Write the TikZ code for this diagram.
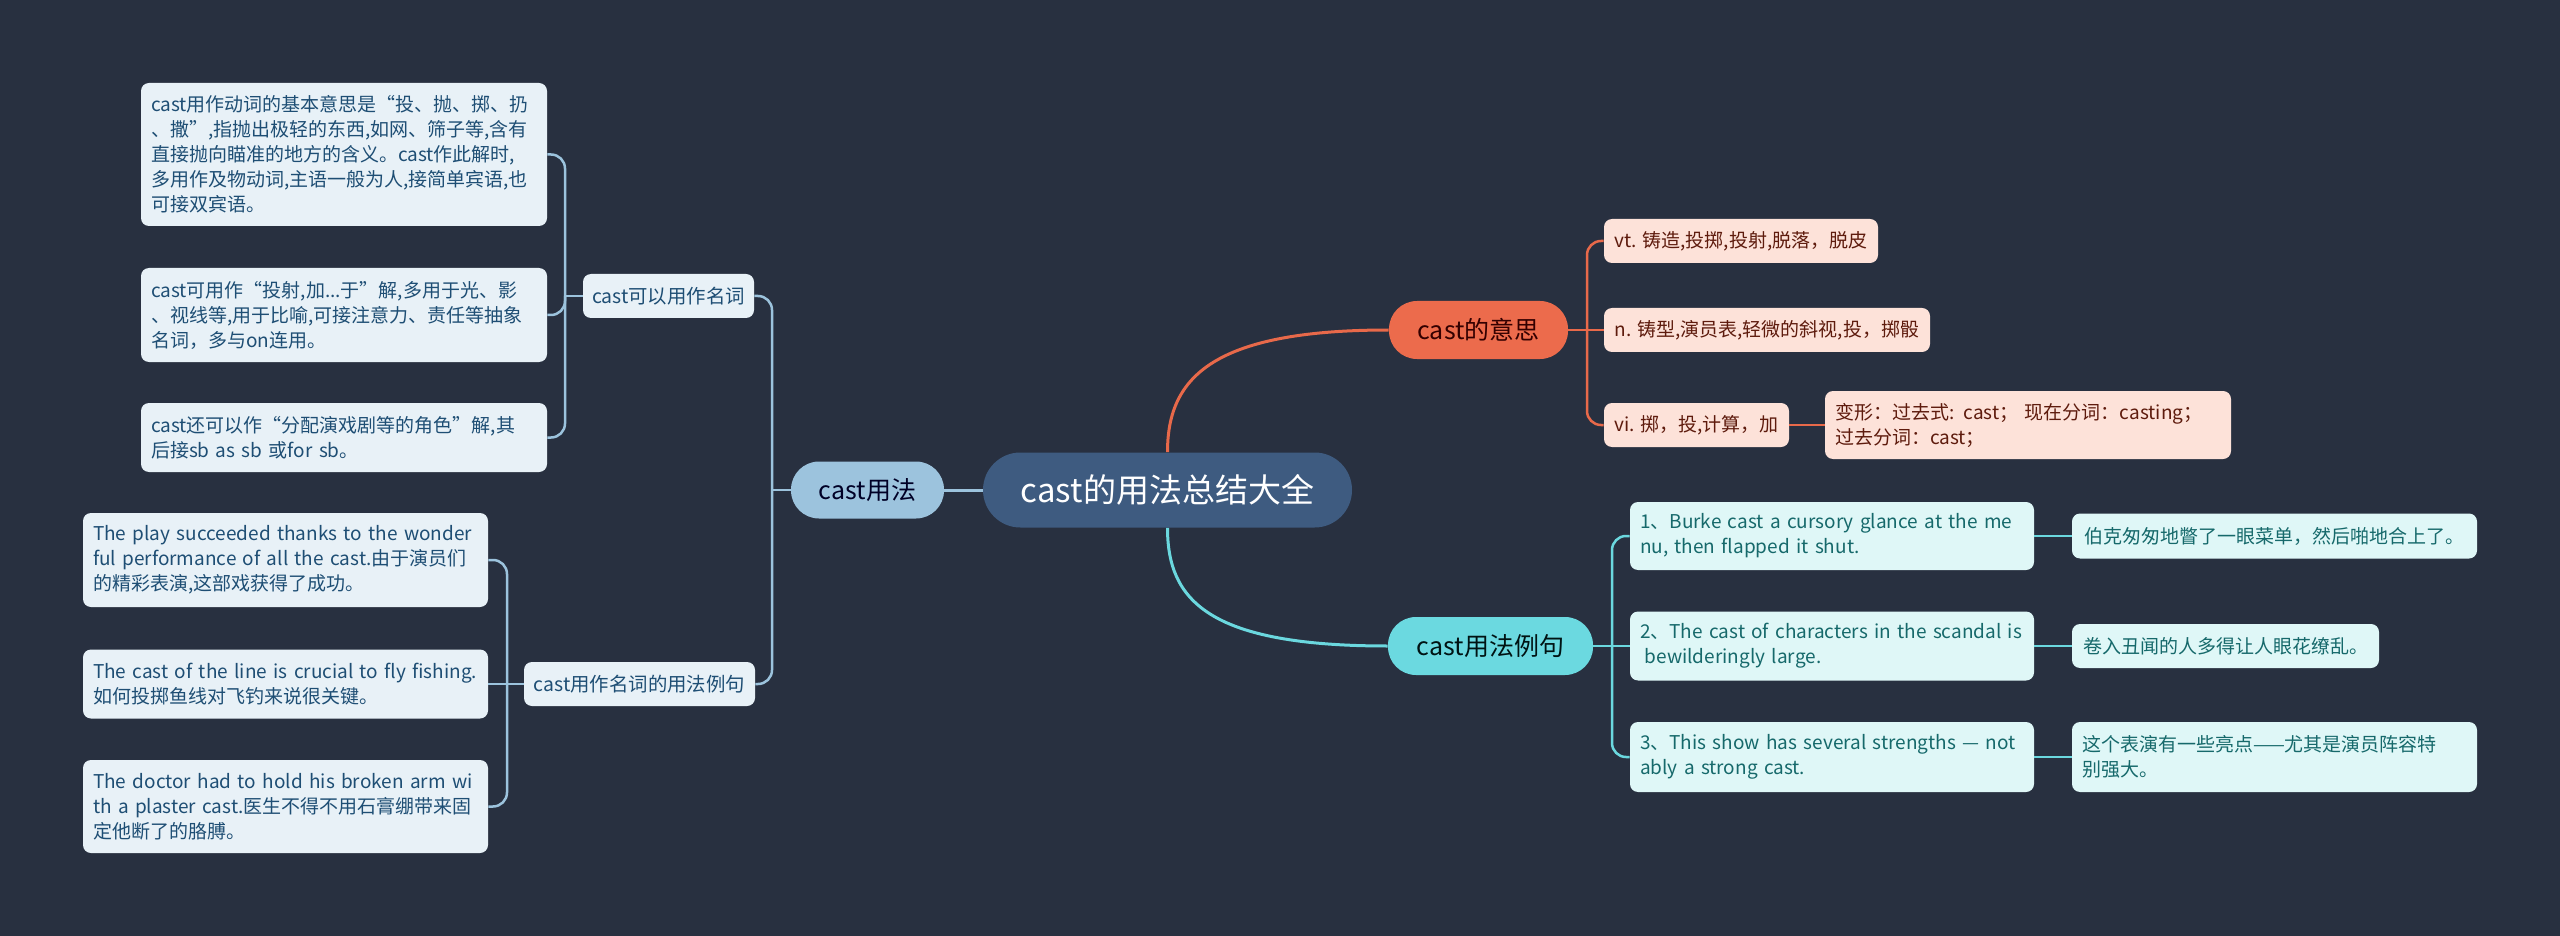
\documentclass[tikz,border=0pt]{standalone}
\usepackage{fontspec}
\setmainfont{Noto Sans CJK SC}
\setlength{\parindent}{0pt}
\definecolor{bg}{HTML}{283040}
\definecolor{rootfill}{HTML}{3E5B80}
\definecolor{bluefill}{HTML}{9CC3DD}
\definecolor{blueline}{HTML}{9CC3DD}
\definecolor{blueleaf}{HTML}{E8F1F7}
\definecolor{bluetext}{HTML}{1E4E74}
\definecolor{orfill}{HTML}{EC6B4C}
\definecolor{orline}{HTML}{E8694A}
\definecolor{orleaf}{HTML}{FDE2D9}
\definecolor{ortext}{HTML}{5E1B0D}
\definecolor{cyfill}{HTML}{6BD9E0}
\definecolor{cyline}{HTML}{6BD8DF}
\definecolor{cyleaf}{HTML}{DFF7F7}
\definecolor{cytext}{HTML}{16696B}
\newcommand\leaffnt{\fontsize{9.5}{12.5}\selectfont}
\newcommand\subfnt{\fontsize{9.7}{12.5}\selectfont}
\newcommand\mainfnt{\fontsize{12.5}{15}\selectfont}
\newcommand\rootfnt{\fontsize{16.5}{20}\selectfont}
\tikzset{
  rootbox/.style={fill=rootfill, text=white, font=\rootfnt, rounded corners=18.7pt, inner sep=0pt, minimum width=184.5pt, minimum height=37.5pt},
  mainbox/.style={rounded corners=14pt, inner sep=0pt, font=\mainfnt, minimum height=28.5pt},
  subB/.style={fill=blueleaf, text=bluetext, rounded corners=4pt, inner sep=0pt, font=\subfnt, minimum height=22pt},
  leafbox/.style={rounded corners=4pt, inner xsep=5pt, inner ysep=0pt, align=left, font=\leaffnt},
  leafB/.style={leafbox, fill=blueleaf, text=bluetext},
  leafO/.style={leafbox, fill=orleaf, text=ortext},
  leafC/.style={leafbox, fill=cyleaf, text=cytext},
  conn/.style={line width=1.25pt},
  mainconn/.style={line width=1.5pt},
  cB/.style={conn, draw=blueline},
  cO/.style={conn, draw=orline},
  cC/.style={conn, draw=cyline},
  rc/.style={rounded corners=7pt}
}
\begin{document}
\begin{tikzpicture}[x=0.5pt,y=-0.5pt]
\fill[bg] (0,0) rectangle (2560,936);
\useasboundingbox (0,0) rectangle (2560,936);

% main nodes
\node[rootbox] (root) at (1167.5,490) {cast的用法总结大全};
\node[mainbox, fill=bluefill, text=black!85!blue, minimum width=76.5pt] (u) at (867.5,490) {cast用法};
\node[mainbox, fill=orfill, text=black!80!red, minimum width=89.5pt, minimum height=29pt] (m) at (1478.5,330) {cast的意思};
\node[mainbox, fill=cyfill, text=black!85!teal, minimum width=102.5pt, minimum height=29pt] (e) at (1490.5,646) {cast用法例句};

% left sub nodes
\node[subB, minimum width=85.5pt] (u1) at (668.5,296) {cast可以用作名词};
\node[subB, minimum width=115.5pt] (u2) at (639.5,684) {cast用作名词的用法例句};

% left leaves
\node[leafB, text width=193pt, minimum height=71.5pt] (L1) at (344,154.5) {cast用作动词的基本意思是“投、抛、掷、扔\\、撒”,指抛出极轻的东西,如网、筛子等,含有\\直接抛向瞄准的地方的含义。cast作此解时,\\多用作及物动词,主语一般为人,接简单宾语,也\\可接双宾语。};
\node[leafB, text width=193pt, minimum height=47pt] (L2) at (344,315) {cast可用作“投射,加...于”解,多用于光、影\\、视线等,用于比喻,可接注意力、责任等抽象\\名词，多与on连用。};
\node[leafB, text width=193pt, minimum height=34.5pt] (L3) at (344,437.5) {cast还可以作“分配演戏剧等的角色”解,其\\后接sb as sb 或for sb。};

\node[leafB, text width=192.5pt, minimum height=47pt] (E1) at (285.5,560) {The play succeeded thanks to the wonder\\ful performance of all the cast.由于演员们\\的精彩表演,这部戏获得了成功。};
\node[leafB, text width=192.5pt, minimum height=34.5pt] (E2) at (285.5,684) {The cast of the line is crucial to fly fishing.\\如何投掷鱼线对飞钓来说很关键。};
\node[leafB, text width=192.5pt, minimum height=46.5pt] (E3) at (285.5,806.5) {The doctor had to hold his broken arm wi\\th a plaster cast.医生不得不用石膏绷带来固\\定他断了的胳膊。};

% orange leaves
\node[leafO, minimum width=137pt, minimum height=22pt] (m1) at (1741,241) {vt. 铸造,投掷,投射,脱落，脱皮};
\node[leafO, minimum width=163pt, minimum height=22pt] (m2) at (1767,330) {n. 铸型,演员表,轻微的斜视,投，掷骰};
\node[leafO, minimum width=92.5pt, minimum height=22pt] (m3) at (1696.5,425) {vi. 掷，投,计算，加};
\node[leafO, text width=193pt, minimum height=34pt] (m4) at (2028,425) {变形：过去式: cast； 现在分词：casting；\\过去分词：cast；};

% cyan leaves
\node[leafC, text width=192pt, minimum height=34pt] (x1) at (1832,536) {1、Burke cast a cursory glance at the me\\nu, then flapped it shut.};
\node[leafC, text width=192pt, minimum height=34.5pt] (x2) at (1832,646) {2、The cast of characters in the scandal is\\\hspace*{0.25em}bewilderingly large.};
\node[leafC, text width=192pt, minimum height=35pt] (x3) at (1832,757) {3、This show has several strengths — not\\ably a strong cast.};
\node[leafC, minimum width=202.5pt, minimum height=22.5pt] (t1) at (2274.5,536) {伯克匆匆地瞥了一眼菜单，然后啪地合上了。};
\node[leafC, minimum width=153.5pt, minimum height=22pt] (t2) at (2225.5,646) {卷入丑闻的人多得让人眼花缭乱。};
\node[leafC, text width=192.5pt, minimum height=35pt] (t3) at (2274.5,757) {这个表演有一些亮点——尤其是演员阵容特\\别强大。};

% junctions
\coordinate (uj) at (772,490);
\coordinate (u1j) at (565,296);
\coordinate (u2j) at (507,684);
\coordinate (mj) at (1587,330);
\coordinate (ej) at (1612,646);

% root connectors
\draw[mainconn, draw=blueline] (root.west) -- (u.east);
\draw[mainconn, draw=orline] (root.north) .. controls +(0,-72) and +(-180,0) .. (m.west);
\draw[mainconn, draw=cyline] (root.south) .. controls +(0,72) and +(-180,0) .. (e.west);

% left
\draw[cB] (u.west) -- (uj);
\draw[cB, rc] (uj) |- (u1.east);
\draw[cB, rc] (uj) |- (u2.east);
\draw[cB] (u1.west) -- (u1j);
\draw[cB, rc] (u1j) |- (L1.east);
\draw[cB, rc] (u1j) |- (L2.east);
\draw[cB, rc] (u1j) |- (L3.east);
\draw[cB] (u2.west) -- (u2j);
\draw[cB, rc] (u2j) |- (E1.east);
\draw[cB] (u2j) -- (E2.east);
\draw[cB, rc] (u2j) |- (E3.east);

% orange
\draw[cO] (m.east) -- (mj);
\draw[cO, rc] (mj) |- (m1.west);
\draw[cO] (mj) -- (m2.west);
\draw[cO, rc] (mj) |- (m3.west);
\draw[cO] (m3.east) -- (m4.west);

% cyan
\draw[cC] (e.east) -- (ej);
\draw[cC, rc] (ej) |- (x1.west);
\draw[cC] (ej) -- (x2.west);
\draw[cC, rc] (ej) |- (x3.west);
\draw[cC] (x1.east) -- (t1.west);
\draw[cC] (x2.east) -- (t2.west);
\draw[cC] (x3.east) -- (t3.west);
\end{tikzpicture}
\end{document}
